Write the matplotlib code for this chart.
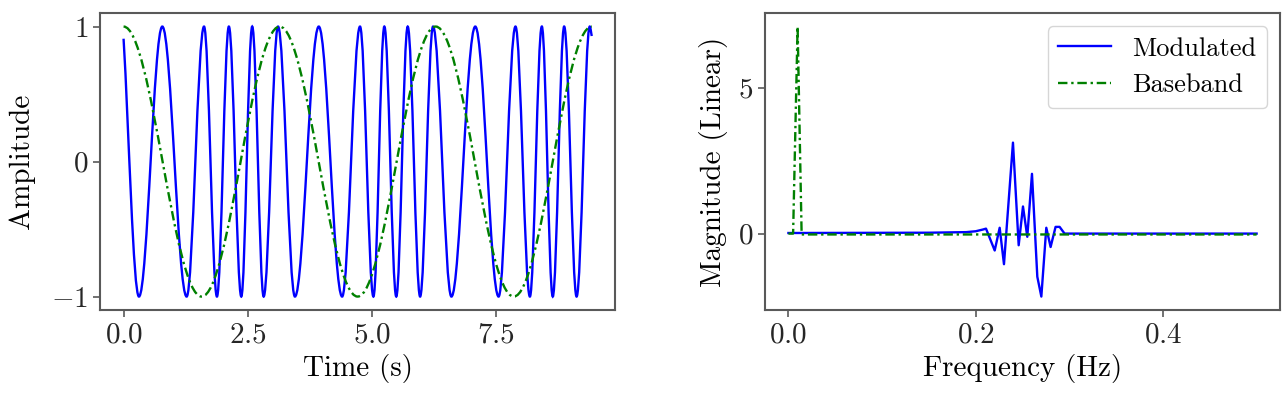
import matplotlib
matplotlib.use("Agg")
import matplotlib.pyplot as plt
from matplotlib.path import Path
from matplotlib.patches import PathPatch

# time domain: turning points of each signal (s, amplitude)
mod_t = [0.0, 0.31, 0.78, 1.27, 1.62, 1.88, 2.12, 2.37, 2.59, 2.82, 3.11,
         3.45, 3.93, 4.40, 4.76, 5.03, 5.25, 5.49, 5.72, 5.97, 6.23, 6.60,
         7.08, 7.55, 7.89, 8.18, 8.42, 8.64, 8.87, 9.12, 9.385, 9.425]
mod_y = [0.91, -1, 1, -1, 1, -1, 1, -1, 1, -1, 1,
         -1, 1, -1, 1, -1, 1, -1, 1, -1, 1, -1,
         1, -1, 1, -1, 1, -1, 1, -1, 1, 0.93]
base_t = [0.0, 1.571, 3.142, 4.712, 6.283, 7.854, 9.425]
base_y = [1, -1, 1, -1, 1, -1, 1]

# spectrum (Hz, linear magnitude)
mod_f = [0.0, 0.15, 0.19, 0.2, 0.2078, 0.211, 0.2203, 0.2256, 0.2302, 0.2398,
         0.2459, 0.2505, 0.2551, 0.2601, 0.2658, 0.2701, 0.2754, 0.28, 0.2853,
         0.2896, 0.2949, 0.5]
mod_mag = [0.02, 0.03, 0.05, 0.08, 0.14, 0.17, -0.58, 0.2, -1.05, 3.12,
           -0.4, 0.93, -0.11, 2.05, -1.48, -2.16, 0.2, -0.46, 0.23,
           0.23, 0.0, 0.0]
base_f = [0.0, 0.005, 0.0098, 0.0141, 0.5]
base_mag = [0.0, 0.0, 7.1, -0.03, -0.03]

time_ticks = [0, 2.5, 5, 7.5]
amp_ticks = [-1, 0, 1]
freq_ticks = [0, 0.2, 0.4]
mag_ticks = [0, 5]

plt.rcParams['font.family'] = 'serif'
plt.rcParams['font.serif'] = ['cmr10']
plt.rcParams['mathtext.fontset'] = 'cm'
plt.rcParams['axes.formatter.use_mathtext'] = True
plt.rcParams['font.size'] = 21

DASHDOT = (0, (4, 1.6, 1, 1.6))


def wave_path(ts, ys, k=0.364):
    # smooth half-cycle curves between the turning points
    verts = [(ts[0], ys[0])]
    codes = [Path.MOVETO]
    for t0, y0, t1, y1 in zip(ts[:-1], ys[:-1], ts[1:], ys[1:]):
        d = (t1 - t0) * k
        c1 = (t0 + d, y0) if abs(y0) > 0.99 else (t0 + (t1 - t0) / 3, y0 + (y1 - y0) / 3)
        c2 = (t1 - d, y1) if abs(y1) > 0.99 else (t1 - (t1 - t0) / 3, y1 - (y1 - y0) / 3)
        verts += [c1, c2, (t1, y1)]
        codes += [Path.CURVE4] * 3
    return Path(verts, codes)


fig, (ax1, ax2) = plt.subplots(1, 2, figsize=(12.84, 3.96), dpi=100)
fig.subplots_adjust(left=0.078, right=0.9969, top=0.967, bottom=0.217, wspace=0.291)

ax1.add_patch(PathPatch(wave_path(mod_t, mod_y), fill=False, edgecolor='blue', lw=1.7))
ax1.add_patch(PathPatch(wave_path(base_t, base_y), fill=False, edgecolor='green',
                        lw=1.7, linestyle=DASHDOT))
lo, hi = min(mod_t + base_t), max(mod_t + base_t)
ax1.set_xlim(lo - 0.05 * (hi - lo), hi + 0.05 * (hi - lo))
lo, hi = min(mod_y + base_y), max(mod_y + base_y)
ax1.set_ylim(lo - 0.05 * (hi - lo), hi + 0.05 * (hi - lo))
ax1.set_xticks(time_ticks)
ax1.set_yticks(amp_ticks)
ax1.set_xlabel('Time (s)')
ax1.set_ylabel('Amplitude', labelpad=12)

ax2.plot(mod_f, mod_mag, color='blue', lw=1.7, label='Modulated')
ax2.plot(base_f, base_mag, color='green', lw=1.7, linestyle=DASHDOT, label='Baseband')
ax2.set_xticks(freq_ticks)
ax2.set_yticks(mag_ticks)
ax2.set_xlabel('Frequency (Hz)')
ax2.set_ylabel('Magnitude (Linear)', labelpad=7)
ax2.legend(loc='upper right', fontsize=19)

for ax in (ax1, ax2):
    for s in ax.spines.values():
        s.set_color('0.35')
        s.set_linewidth(1.5)
    ax.tick_params(color='0.35', width=1.2, length=5, labelcolor='0.15')

fig.savefig('out.png', dpi=100)
